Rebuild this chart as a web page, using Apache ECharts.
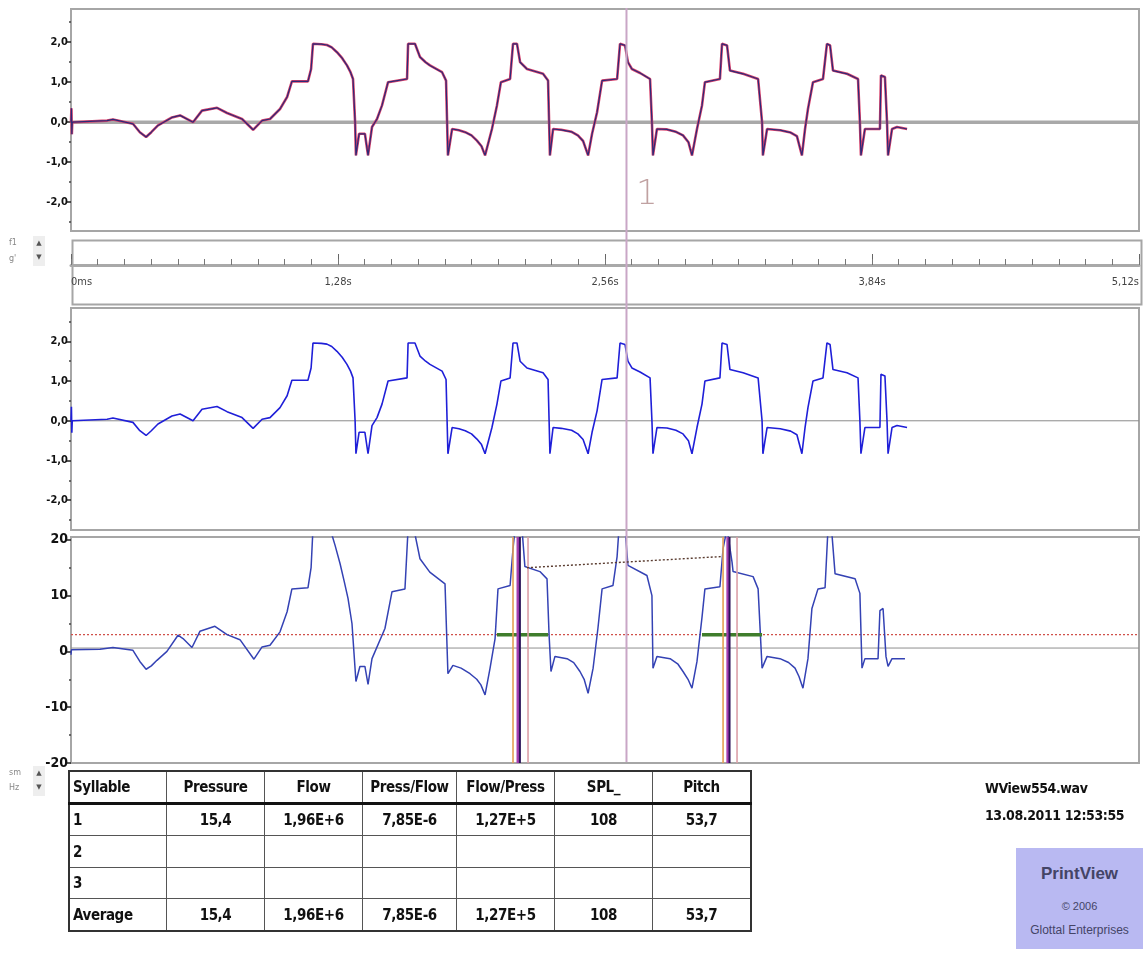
<!DOCTYPE html>
<html><head><meta charset="utf-8">
<script src="https://cdn.jsdelivr.net/npm/echarts@6/dist/echarts.min.js"></script>
<style>
html,body{margin:0;padding:0;background:#fff;width:1143px;height:959px;overflow:hidden;}
#chart{position:absolute;left:0;top:0;width:1143px;height:959px;}
.cond{font-family:'Liberation Sans Narrow','DejaVu Sans Condensed','Arial Narrow',sans-serif;font-weight:bold;color:#111;letter-spacing:-0.4px;}
#tbl{position:absolute;left:68px;top:770px;border-collapse:collapse;border:2px solid #333;font-size:15px;}
#tbl td{border:1px solid #555;text-align:center;padding:0 3px;line-height:14px;}
#tbl td.first{text-align:left;}
#tbl tr.head td{border-bottom:3px solid #111;}
.ctl{position:absolute;font-family:'DejaVu Sans',sans-serif;font-size:8px;color:#888;}
.arrows{position:absolute;width:12px;background:#eee;font-size:7px;color:#555;text-align:center;line-height:14px;font-family:'DejaVu Sans',sans-serif;}
#info{position:absolute;left:985px;top:775px;font-size:14px;line-height:27px;}
#pv{position:absolute;left:1016px;top:848px;width:127px;height:101px;background:#b9b9f2;text-align:center;font-family:'Liberation Sans','DejaVu Sans',sans-serif;color:#444466;}
</style></head>
<body>
<div id="chart"></div>
<table id="tbl" class="cond"></table>
<div class="ctl" style="left:9px;top:238px;">f1</div>
<div class="ctl" style="left:9px;top:254px;">g'</div>
<div class="arrows" style="left:33px;top:236px;height:30px;">▲<br>▼</div>
<div class="ctl" style="left:9px;top:768px;">sm</div>
<div class="ctl" style="left:9px;top:783px;">Hz</div>
<div class="arrows" style="left:33px;top:766px;height:30px;">▲<br>▼</div>
<div id="info" class="cond"><div id="fileName"></div><div id="fileDate"></div></div>
<div id="pv"><div id="pvTitle" style="font-weight:bold;font-size:17px;margin-top:16px;"></div><div id="pvCopy" style="font-size:11px;margin-top:16px;"></div><div id="pvCompany" style="font-size:12px;margin-top:11px;"></div></div>
<script>
// ---------- data ----------
const timeTickLabels = [0, 1.28, 2.56, 3.84, 5.12];      // seconds
const pressureTicks = [-2, -1, 0, 1, 2];
const flowTicks = [-20, -10, 0, 10, 20];

// [time s, value] of the top two traces
const pressureWave = [[0,0],[0.002,0.35],[0.004,-0.3],[0.006,0],
[0.173,0.04],[0.201,0.07],[0.297,-0.04],[0.330,-0.25],[0.360,-0.37],[0.385,-0.25],[0.417,-0.08],[0.484,0.12],[0.523,0.17],[0.585,0],[0.628,0.29],[0.700,0.36],[0.748,0.23],[0.820,0.08],[0.873,-0.19],[0.916,0.04],[0.954,0.08],[1.002,0.33],[1.036,0.63],[1.059,1.02],[1.136,1.02],[1.151,1.33],[1.160,1.96],[1.200,1.95],[1.227,1.93],[1.250,1.87],[1.275,1.75],[1.300,1.6],[1.323,1.42],[1.340,1.25],[1.352,1.08],[1.362,0],[1.366,-0.83],[1.381,-0.29],[1.409,-0.29],[1.424,-0.83],[1.443,-0.12],[1.467,0.08],[1.491,0.42],[1.520,1.0],[1.611,1.08],[1.616,1.96],[1.649,1.96],[1.673,1.63],[1.700,1.5],[1.721,1.42],[1.779,1.25],[1.798,1.04],[1.803,0],[1.807,-0.83],[1.827,-0.17],[1.860,-0.2],[1.890,-0.25],[1.920,-0.33],[1.946,-0.46],[1.968,-0.6],[1.985,-0.83],[2.018,-0.17],[2.042,0.42],[2.061,1.0],[2.105,1.08],[2.119,1.96],[2.138,1.96],[2.153,1.5],[2.186,1.33],[2.263,1.21],[2.287,1.04],[2.292,0],[2.296,-0.83],[2.311,-0.17],[2.350,-0.19],[2.400,-0.24],[2.430,-0.33],[2.455,-0.47],[2.479,-0.83],[2.498,-0.29],[2.522,0.25],[2.546,1.04],[2.618,1.08],[2.632,1.96],[2.656,1.92],[2.670,1.5],[2.689,1.33],[2.728,1.23],[2.776,1.08],[2.785,0],[2.790,-0.83],[2.809,-0.17],[2.857,-0.18],[2.900,-0.24],[2.934,-0.33],[2.960,-0.5],[2.977,-0.83],[3.001,-0.17],[3.025,0.42],[3.039,1.0],[3.111,1.08],[3.121,1.96],[3.145,1.92],[3.159,1.29],[3.222,1.21],[3.294,1.08],[3.313,0],[3.317,-0.83],[3.337,-0.17],[3.400,-0.2],[3.450,-0.26],[3.480,-0.35],[3.504,-0.83],[3.519,-0.17],[3.533,0.33],[3.557,1.0],[3.605,1.08],[3.624,1.96],[3.639,1.92],[3.653,1.29],[3.720,1.21],[3.773,1.08],[3.782,0],[3.787,-0.83],[3.806,-0.17],[3.878,-0.17],[3.883,1.17],[3.902,1.13],[3.912,0],[3.917,-0.83],[3.936,-0.17],[3.960,-0.12],[4.008,-0.17]];

// [time s, value] of the bottom trace
const flowWave = [[0,-0.6],[0.002,0.3],[0.139,0.4],[0.201,0.7],[0.297,0.2],[0.330,-1.8],[0.360,-3.2],[0.385,-2.6],[0.412,-1.6],[0.460,0],[0.513,2.9],[0.537,2.3],[0.580,0.7],[0.618,3.6],[0.690,4.5],[0.748,3.0],[0.810,2.1],[0.877,-1.4],[0.916,0.8],[0.954,1.1],[1.002,3.5],[1.036,7.1],[1.059,11.2],[1.136,11.4],[1.151,15],[1.160,22],[1.242,22],[1.266,19],[1.290,15.7],[1.310,12.5],[1.328,9.5],[1.347,5],[1.366,-5.4],[1.385,-2.7],[1.409,-2.7],[1.424,-5.9],[1.443,-1.3],[1.505,4.1],[1.539,10.7],[1.601,11.2],[1.616,22],[1.649,21],[1.673,16.6],[1.720,14.2],[1.793,12.1],[1.807,-4],[1.831,-2.5],[1.870,-3],[1.913,-4],[1.945,-5],[1.965,-6],[1.985,-7.8],[2.009,-3],[2.033,2.3],[2.047,11.2],[2.105,11.8],[2.119,18.4],[2.129,22],[2.162,22],[2.176,15.2],[2.248,14.3],[2.282,13],[2.292,2.9],[2.301,-3.6],[2.320,-0.9],[2.378,-1.3],[2.410,-2],[2.440,-3.6],[2.460,-5],[2.479,-7.5],[2.503,-3],[2.526,4.1],[2.546,11.2],[2.598,11.8],[2.618,17],[2.627,22],[2.656,22],[2.670,15.4],[2.761,13.6],[2.785,10],[2.790,-3],[2.809,-0.9],[2.872,-1.3],[2.910,-2.3],[2.934,-3.6],[2.958,-5],[2.977,-6.6],[3.001,-1.8],[3.025,6.1],[3.039,11.2],[3.111,11.6],[3.126,18.4],[3.145,22],[3.169,16],[3.174,14.3],[3.270,13.4],[3.294,11.2],[3.313,-3],[3.337,-0.9],[3.399,-1.3],[3.440,-2],[3.471,-3],[3.490,-4.5],[3.509,-6.6],[3.533,-1.3],[3.552,7.7],[3.581,11.2],[3.615,11.4],[3.629,22],[3.648,21],[3.663,13.9],[3.759,13],[3.782,10.4],[3.792,-3],[3.806,-1.3],[3.869,-1.3],[3.878,7.3],[3.893,7.7],[3.907,-0.9],[3.917,-2.7],[3.936,-1.3],[3.998,-1.3]];

const cursorTime = 2.663;
const cursorLabel = [2.761, -1.83];
const markerOrange = [2.119, 3.126];
const markerMagenta = [2.143, 3.149];
const markerDark = [2.152, 3.157];
const markerPink = [2.191, 3.193];
const flowBaseLevel = 0.6;
const flowThreshold = 3.0;
const voicedSegments = [[2.042, 2.287], [3.025, 3.313]];
const pitchTrend = [[2.186, 15.0], [3.121, 17.0]];

const tableHeader = ['Syllable','Pressure','Flow','Press/Flow','Flow/Press','SPL_','Pitch'];
const tableRows = [
  ['1','15,4','1,96E+6','7,85E-6','1,27E+5','108','53,7'],
  ['2','','','','','',''],
  ['3','','','','','',''],
  ['Average','15,4','1,96E+6','7,85E-6','1,27E+5','108','53,7']
];
const fileName = 'WView554.wav';
const fileDate = '13.08.2011 12:53:55';
const badgeTitle = 'PrintView';
const badgeCopy = '© 2006';
const badgeCompany = 'Glottal Enterprises';

// ---------- table / texts ----------
const colW = [97,98,98,94,98,98,98];
const rowH = [31,31,32,31,32];
const tbl = document.getElementById('tbl');
[tableHeader].concat(tableRows).forEach((row, r) => {
  const tr = document.createElement('tr');
  if (r === 0) tr.className = 'head';
  row.forEach((txt, c) => {
    const td = document.createElement('td');
    td.textContent = txt;
    td.style.width = (colW[c] - 7) + 'px';
    td.style.height = (rowH[r] - 1) + 'px';
    if (c === 0) td.className = 'first';
    tr.appendChild(td);
  });
  tbl.appendChild(tr);
});
document.getElementById('fileName').textContent = fileName;
document.getElementById('fileDate').textContent = fileDate;
document.getElementById('pvTitle').textContent = badgeTitle;
document.getElementById('pvCopy').textContent = badgeCopy;
document.getElementById('pvCompany').textContent = badgeCompany;

// ---------- chart ----------
const condFont = "'Liberation Sans Narrow','DejaVu Sans Condensed',sans-serif";
const T0 = timeTickLabels[0], T1 = timeTickLabels[timeTickLabels.length - 1];
const minorTimes = []; for (let i = 0; i <= 40; i++) minorTimes.push(+(i * 0.128).toFixed(3));
const halfTicks = [-2.5,-1.5,-0.5,0.5,1.5,2.5];
const flowMinor = [-15,-5,5,15];
const P1 = [-2.72, 2.83], P2 = [-2.75, 2.84], F3 = [-20, 20.5];

function hiddenX(grid){ return {type:'value', gridIndex:grid, min:T0, max:T1, show:false}; }
function labelY(grid, ext, ticks, fs, fmt){
  return {type:'value', gridIndex:grid, min:ext[0], max:ext[1], position:'left',
    axisLine:{show:false}, splitLine:{show:false},
    axisTick:{show:true, length:5, customValues:ticks, lineStyle:{color:'#222', width:1.5}},
    axisLabel:{customValues:ticks, formatter:fmt, fontFamily:condFont, fontWeight:'bold', fontSize:fs, color:'#111', margin:3}};
}
function minorY(grid, ext, ticks){
  return {type:'value', gridIndex:grid, min:ext[0], max:ext[1], position:'left',
    axisLine:{show:false}, splitLine:{show:false}, axisLabel:{show:false},
    axisTick:{show:true, length:2, customValues:ticks, lineStyle:{color:'#444', width:1.5}}};
}
function hline(xi, yi, y, color, width, type, z){
  return {type:'line', xAxisIndex:xi, yAxisIndex:yi, data:[[T0,y],[T1,y]], showSymbol:false, silent:true,
    lineStyle:{color:color, width:width, type:type||'solid'}, z:z||1};
}
function seg(xi, yi, pts, color, width, type, z){
  return {type:'line', xAxisIndex:xi, yAxisIndex:yi, data:pts, showSymbol:false, silent:true,
    lineStyle:{color:color, width:width, type:type||'solid'}, z:z||5};
}
const pFmt = v => v.toFixed(1).replace('.', ',');
const tFmt = v => v === 0 ? '0ms' : v.toFixed(2).replace('.', ',') + 's';
const gridBorder = {show:true, borderColor:'#a6a6a6', borderWidth:2};

const series = [
  hline(0, 0, 0, '#a9a9a9', 3.5),
  {type:'line', xAxisIndex:0, yAxisIndex:0, data:pressureWave, showSymbol:false, lineStyle:{color:'#d8406a', width:2.6}, z:3},
  {type:'line', xAxisIndex:0, yAxisIndex:0, data:pressureWave, showSymbol:false, lineStyle:{color:'#2c2a78', width:1.2}, z:4},
  {type:'scatter', xAxisIndex:0, yAxisIndex:0, data:[cursorLabel], symbolSize:0, z:6,
    label:{show:true, position:'inside', formatter:'1', color:'#b08a8a', fontSize:34, fontFamily:'DejaVu Sans', fontWeight:'lighter'}},
  hline(1, 2, 0, '#8a8a8a', 1),
  {type:'line', xAxisIndex:1, yAxisIndex:2, data:pressureWave, showSymbol:false, lineStyle:{color:'#1f1fd8', width:1.6}, z:3},
  hline(2, 4, flowBaseLevel, '#8f8f8f', 1),
  hline(2, 4, flowThreshold, '#d0504a', 1.2, [2,2], 2),
  {type:'line', xAxisIndex:2, yAxisIndex:4, data:flowWave, showSymbol:false, lineStyle:{color:'#3442b4', width:1.5}, z:3}
];
voicedSegments.forEach(s => series.push(seg(2, 4, [[s[0], flowThreshold],[s[1], flowThreshold]], '#3f7d2c', 3.5, 'solid', 4)));
markerOrange.forEach(t => series.push(seg(2, 4, [[t, F3[0]],[t, F3[1]]], '#e4a052', 1.6)));
markerMagenta.forEach(t => series.push(seg(2, 4, [[t, F3[0]],[t, F3[1]]], '#a63fae', 3)));
markerDark.forEach(t => series.push(seg(2, 4, [[t, F3[0]],[t, F3[1]]], '#2a1258', 2)));
markerPink.forEach(t => series.push(seg(2, 4, [[t, F3[0]],[t, F3[1]]], '#dca0a8', 1.6)));
series.push(seg(2, 4, pitchTrend, '#5a3c30', 1.4, [2,2], 6));
series.push(seg(5, 7, [[cursorTime, 0],[cursorTime, 1]], '#c9a6c6', 2, 'solid', 0));

const option = {
  animation:false,
  backgroundColor:'#fff',
  grid:[
    Object.assign({left:71, right:4, top:9, height:222}, gridBorder),
    Object.assign({left:71, right:4, top:308, height:222}, gridBorder),
    Object.assign({left:71, right:4, top:537, height:226}, gridBorder),
    {left:71, right:4, top:238, height:27, show:false},
    {left:71, right:4, top:8, height:754, show:false}
  ],
  graphic:[{type:'rect', left:70, top:238, shape:{width:1069, height:64}, style:{fill:'none', stroke:'#a6a6a6', lineWidth:2}, silent:true}],
  xAxis:[
    hiddenX(0), hiddenX(1), hiddenX(2),
    {type:'value', gridIndex:3, min:T0, max:T1, position:'bottom', splitLine:{show:false},
      axisLine:{show:true, lineStyle:{color:'#a9a9a9', width:3}},
      axisTick:{show:true, inside:true, length:11, customValues:timeTickLabels, lineStyle:{color:'#666', width:1}},
      axisLabel:{customValues:timeTickLabels, formatter:tFmt, color:'#444', fontSize:11, fontFamily:'DejaVu Sans Condensed,sans-serif', margin:12, alignMinLabel:'left', alignMaxLabel:'right'}},
    {type:'value', gridIndex:3, min:T0, max:T1, position:'bottom', splitLine:{show:false},
      axisLine:{show:false}, axisLabel:{show:false},
      axisTick:{show:true, inside:true, length:6, customValues:minorTimes, lineStyle:{color:'#777', width:1}}},
    hiddenX(4)
  ],
  yAxis:[
    labelY(0, P1, pressureTicks, 11, pFmt), minorY(0, P1, halfTicks),
    labelY(1, P2, pressureTicks, 11, pFmt), minorY(1, P2, halfTicks),
    labelY(2, F3, flowTicks, 14, v => String(v)), minorY(2, F3, flowMinor),
    {type:'value', gridIndex:3, min:0, max:1, show:false},
    {type:'value', gridIndex:4, min:0, max:1, show:false}
  ],
  series:series
};
const chart = echarts.init(document.getElementById('chart'), null, {renderer:'canvas'});
chart.setOption(option);
</script>
</body></html>
